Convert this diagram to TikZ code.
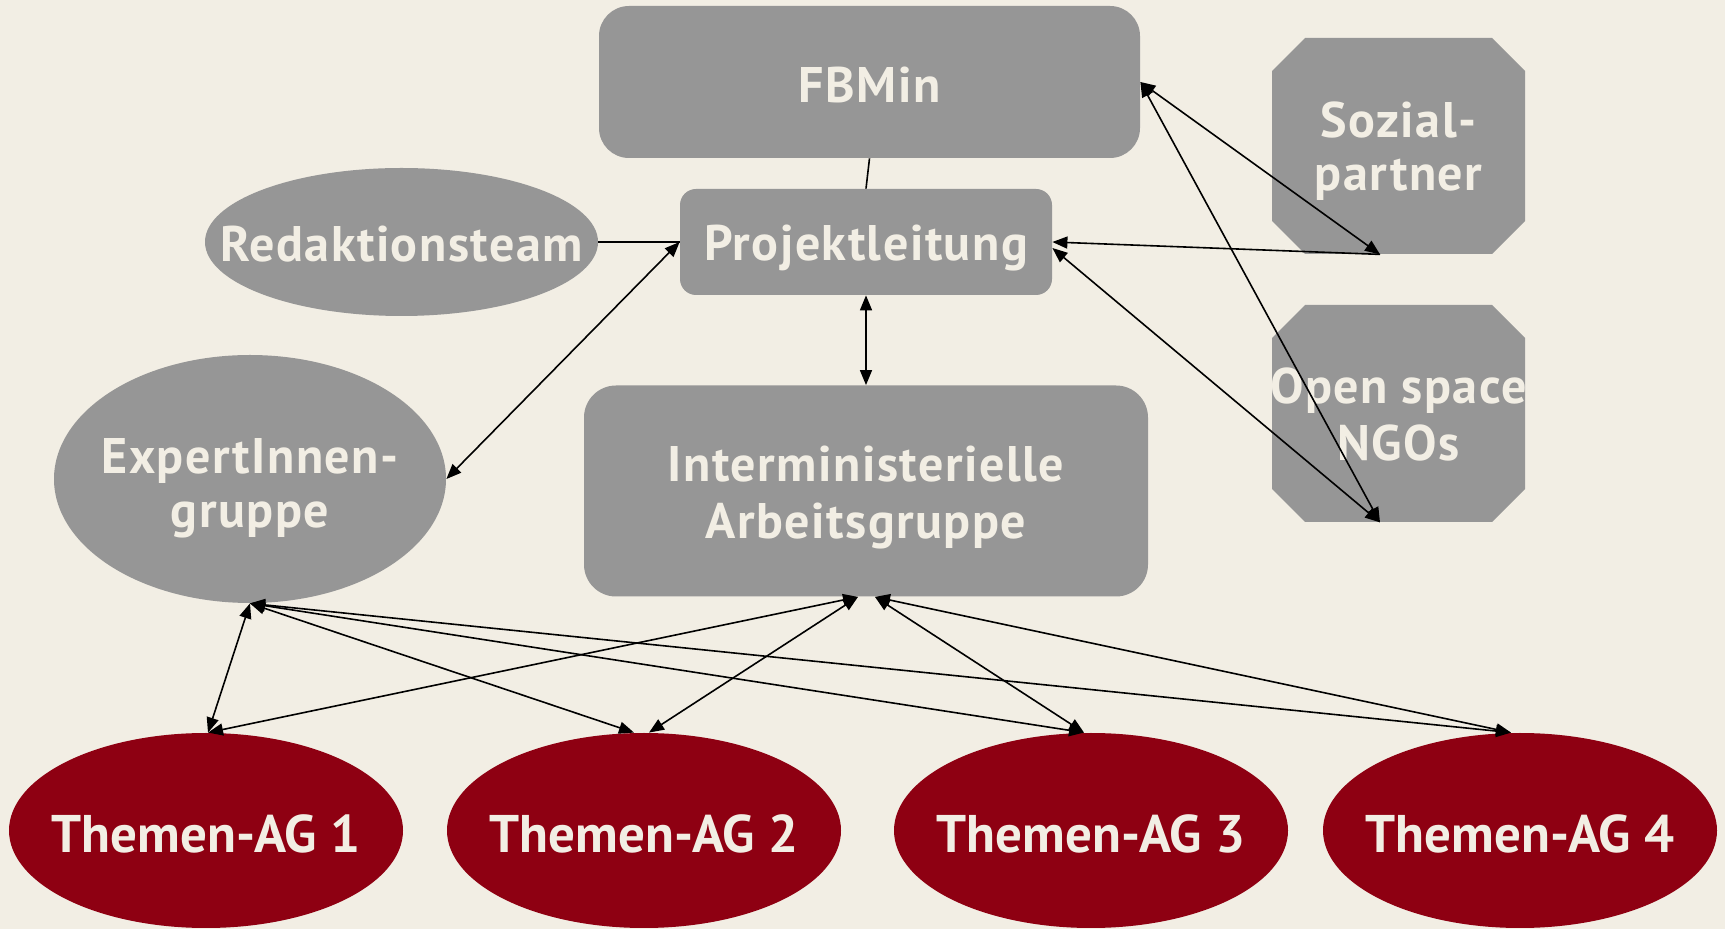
\documentclass[tikz,border=0pt]{standalone}
\usepackage{fontspec}
\setmainfont{PT Sans}
\newfontfamily\gfam[LetterSpace=3]{PT Sans}
\usetikzlibrary{arrows.meta,shapes.geometric}
\definecolor{bgc}{RGB}{242,238,228}
\definecolor{greyc}{RGB}{150,150,150}
\definecolor{redc}{RGB}{142,0,18}
\begin{document}
\begin{tikzpicture}[x=0.5pt,y=-0.5pt,
  gtext/.style={text=bgc, font=\gfam\bfseries\fontsize{25}{28.3}\selectfont, align=center, inner sep=0pt},
  box/.style={gtext, fill=greyc},
  rbox/.style={box, rectangle, rounded corners=#1},
  ell/.style={box, ellipse},
  octtext/.style={gtext, rectangle},
  ag/.style={ellipse, fill=redc, text=bgc, inner sep=0pt, minimum width=197pt, minimum height=97.5pt,
             font=\bfseries\fontsize{26.5}{31}\selectfont, text height=22pt, text depth=0pt},
  link/.style={line width=0.8pt, black},
  biarrow/.style={link, {Triangle[length=7.5pt,width=6pt]}-{Triangle[length=7.5pt,width=6pt]}},
  toarrow/.style={link, -{Triangle[length=7.5pt,width=6pt]}}
]
\fill[bgc] (0,0) rectangle (1725,929);
\clip (0,0) rectangle (1725,929);

% nodes
\node[rbox=15pt, minimum width=270.5pt, minimum height=76pt, text height=20.5pt, text depth=0pt] (fbm) at (869.5,82) {FBMin};
\node[rbox=8pt, minimum width=186pt, minimum height=53pt, text height=19pt, text depth=0pt] (proj) at (866,242) {Projektleitung};
\node[ell, minimum width=196.5pt, minimum height=74pt, text height=19.2pt, text depth=0pt] (red) at (401.5,242) {\makebox[0pt]{Redaktionsteam}};
\node[ell, minimum width=196pt, minimum height=124pt, text height=48.5pt, text depth=0pt,
      font=\gfam\bfseries\fontsize{25}{27}\selectfont] (exp) at (250,479) {\makebox[0pt]{ExpertInnen-}\\\makebox[0pt]{gruppe}};
\node[rbox=16pt, minimum width=282pt, minimum height=105.5pt, text height=47.3pt, text depth=0pt] (imag) at (866,491) {Interministerielle\\Arbeitsgruppe};

\fill[greyc] (1272,71) -- (1305,38) -- (1492,38) -- (1525,71) -- (1525,221) -- (1492,254) -- (1305,254) -- (1272,221) -- cycle;
\node[octtext, minimum width=126.5pt, minimum height=108pt, text height=44.9pt, text depth=0pt,
      font=\gfam\bfseries\fontsize{25}{26.7}\selectfont] (soz) at (1398.5,146) {\makebox[0pt]{Sozial-}\\\makebox[0pt]{partner}};
\fill[greyc] (1272,338) -- (1305,305) -- (1492,305) -- (1525,338) -- (1525,489) -- (1492,522) -- (1305,522) -- (1272,489) -- cycle;
\node[octtext, minimum width=126.5pt, minimum height=108.5pt, text height=46.8pt, text depth=0pt] (open) at (1398.5,413.5) {\makebox[0pt]{Open space}\\\makebox[0pt]{NGOs}};

\node[ag] (ag1) at (206,830.5) {\makebox[0pt]{Themen-AG 1}};
\node[ag] (ag2) at (644,830.5) {\makebox[0pt]{Themen-AG 2}};
\node[ag] (ag3) at (1091,830.5) {\makebox[0pt]{Themen-AG 3}};
\node[ag] (ag4) at (1520,830.5) {\makebox[0pt]{Themen-AG 4}};

% connectors
\draw[link] (fbm.south) -- (proj.north);
\draw[link] (red.east) -- (proj.west);
\draw[biarrow] (proj.west) -- (exp.east);
\draw[biarrow] (proj.south) -- (imag.north);
\draw[biarrow] (fbm.east) -- ([xshift=-9.25pt]soz.south);
\draw[biarrow] (fbm.east) -- ([xshift=-9.25pt]open.south);
\draw[toarrow] ([xshift=-9.25pt]soz.south) -- (proj.east);
\draw[biarrow] ([xshift=-9.25pt]open.south) -- ([yshift=-3pt]proj.east);

\draw[biarrow] (exp.south) -- ([xshift=1pt]ag1.north);
\draw[biarrow] (exp.south) -- ([xshift=-5pt]ag2.north);
\draw[biarrow] (exp.south) -- ([xshift=-3.5pt]ag3.north);
\draw[biarrow] (exp.south) -- ([xshift=-4.5pt]ag4.north);
\draw[biarrow] ([xshift=-4pt]imag.south) -- ([xshift=1pt]ag1.north);
\draw[biarrow] ([xshift=-4pt]imag.south) -- ([xshift=2.5pt]ag2.north);
\draw[biarrow] ([xshift=4.5pt]imag.south) -- ([xshift=-3.5pt]ag3.north);
\draw[biarrow] ([xshift=4.5pt]imag.south) -- ([xshift=-4.5pt]ag4.north);
\end{tikzpicture}
\end{document}
